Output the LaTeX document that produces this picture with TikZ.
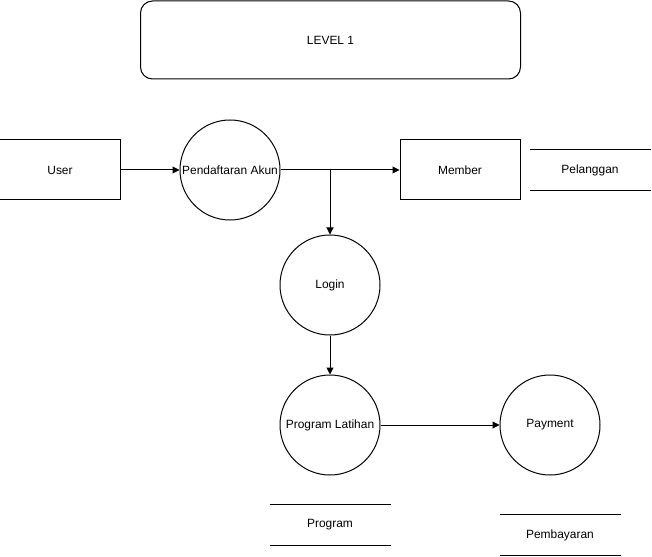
\documentclass[tikz,border=0pt]{standalone}
\usepackage{fontspec}
\setmainfont{Liberation Sans}
\usetikzlibrary{arrows.meta}

\begin{document}
\begin{tikzpicture}[x=1bp, y=-1bp, line width=1bp,
    font=\fontsize{12}{14}\selectfont,
    entity/.style={draw, minimum width=120bp, minimum height=60bp, inner sep=0},
    process/.style={draw, circle, minimum size=100bp, inner sep=0},
    store/.style={minimum width=120bp, minimum height=40bp, inner sep=0},
    flow/.style={-{Triangle[length=7bp,width=7bp]}}]
      \useasboundingbox (0,0) rectangle (652,557);

      \node[draw, rounded corners=12bp, minimum width=380bp, minimum height=78bp] (title) at (330.5,40) {LEVEL 1};

      \node[entity] (user) at (60,170) {User};
      \node[process] (daftar) at (230,170) {Pendaftaran Akun};
      \node[entity] (member) at (460,170) {Member};
      \node[process] (login) at (330,285) {Login};
      \node[process] (latihan) at (330,425) {Program Latihan};
      \node[process] (payment) at (550,425) {Payment};

      % data stores
      \node[store] (pelanggan) at (590,170) {Pelanggan};
      \draw (pelanggan.north west) -- (pelanggan.north east);
      \draw (pelanggan.south west) -- (pelanggan.south east);

      \node[store] (program) at (330,525) {Program};
      \draw (program.north west) -- (program.north east);
      \draw (program.south west) -- (program.south east);

      \node[store] (pembayaran) at (560,535) {Pembayaran};
      \draw (pembayaran.north west) -- (pembayaran.north east);
      \draw (pembayaran.south west) -- (pembayaran.south east);

      % flows
      \coordinate (cabang) at (330,170);
      \draw[flow] (user) -- (daftar);
      \draw[flow] (daftar) -- (member);
      \draw[flow] (cabang) -- (login);
      \draw[flow] (login) -- (latihan);
      \draw[flow] (latihan) -- (payment);
\end{tikzpicture}
\end{document}
